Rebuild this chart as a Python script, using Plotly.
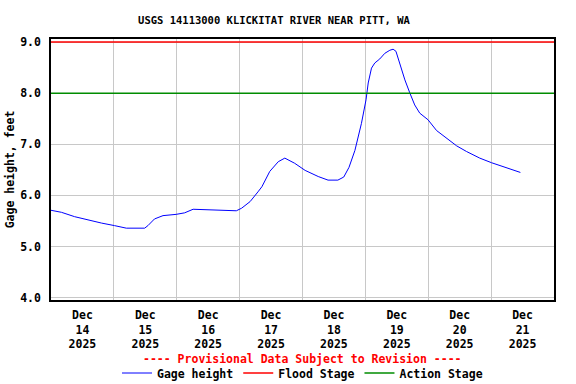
import plotly.graph_objects as go

# Gage height readings (time, feet)
times = [
    "2025-12-14 00:00", "2025-12-14 04:00", "2025-12-14 09:00", "2025-12-14 14:00",
    "2025-12-14 19:15", "2025-12-15 00:15", "2025-12-15 04:45", "2025-12-15 11:45",
    "2025-12-15 13:00", "2025-12-15 15:30", "2025-12-15 18:45", "2025-12-15 23:45",
    "2025-12-16 03:00", "2025-12-16 06:15", "2025-12-16 12:45", "2025-12-16 17:00",
    "2025-12-16 22:45", "2025-12-17 00:45", "2025-12-17 04:00", "2025-12-17 07:00",
    "2025-12-17 08:30", "2025-12-17 11:30", "2025-12-17 14:45", "2025-12-17 17:15",
    "2025-12-17 21:00", "2025-12-18 01:00", "2025-12-18 06:00", "2025-12-18 09:45",
    "2025-12-18 13:30", "2025-12-18 15:45", "2025-12-18 17:45", "2025-12-18 20:00",
    "2025-12-18 22:30", "2025-12-19 00:15", "2025-12-19 01:05", "2025-12-19 02:20",
    "2025-12-19 03:35", "2025-12-19 05:30", "2025-12-19 07:25", "2025-12-19 09:20",
    "2025-12-19 10:35", "2025-12-19 11:40", "2025-12-19 13:10", "2025-12-19 15:05",
    "2025-12-19 17:00", "2025-12-19 18:50", "2025-12-19 20:45", "2025-12-19 23:55",
    "2025-12-20 03:10", "2025-12-20 07:00", "2025-12-20 10:50", "2025-12-20 14:35",
    "2025-12-20 19:40", "2025-12-21 00:10", "2025-12-21 05:50", "2025-12-21 11:10",
]
gage_height = [
    5.71, 5.67, 5.585, 5.52,
    5.46, 5.41, 5.36, 5.36,
    5.41, 5.54, 5.605, 5.63,
    5.66, 5.73, 5.72, 5.70,
    5.70, 5.75, 5.88, 6.07,
    6.17, 6.47, 6.66, 6.73,
    6.63, 6.49, 6.37, 6.30,
    6.30, 6.36, 6.55, 6.88,
    7.41, 7.87, 8.20, 8.49,
    8.59, 8.67, 8.78, 8.84,
    8.86, 8.82, 8.56, 8.26,
    8.00, 7.77, 7.61, 7.48,
    7.27, 7.12, 6.97, 6.86,
    6.73, 6.64, 6.55, 6.45,
]

stage_times = ["2025-12-14 00:00", "2025-12-22 00:00"]
flood_stage = [9.0, 9.0]
action_stage = [8.0, 8.0]

y_ticks = [4.0, 5.0, 6.0, 7.0, 8.0, 9.0]
y_tick_text = ["4.0", "5.0", "6.0", "7.0", "8.0", "9.0"]

FONT = "DejaVu Sans Mono"

fig = go.Figure()
fig.add_trace(go.Scatter(x=times, y=gage_height, mode="lines", name="Gage height",
                         line=dict(color="#0000ff", width=1)))
fig.add_trace(go.Scatter(x=stage_times, y=flood_stage, mode="lines", name="Flood Stage",
                         line=dict(color="#ff0000", width=1.5)))
fig.add_trace(go.Scatter(x=stage_times, y=action_stage, mode="lines", name="Action Stage",
                         line=dict(color="#008c00", width=1.5)))

fig.update_layout(
    width=576, height=384, autosize=False,
    margin=dict(l=51, r=22, t=39, b=84, autoexpand=False),
    paper_bgcolor="white", plot_bgcolor="white",
    font=dict(family=FONT, size=11.5, color="black", weight="bold"),
    title=dict(text="USGS 14113000 KLICKITAT RIVER NEAR PITT, WA",
               x=274 / 576, xanchor="center", xref="container",
               y=1 - 20 / 384, yanchor="middle", yref="container",
               font=dict(family=FONT, size=10.5, weight="bold")),
    showlegend=True,
    legend=dict(orientation="h", x=0.5, xanchor="center", y=-(373 - 300) / 261,
                yanchor="middle",
                font=dict(family=FONT, size=11.5, weight="bold"),
                bgcolor="rgba(0,0,0,0)", itemwidth=30, tracegroupgap=0),
    annotations=[dict(text="---- Provisional Data Subject to Revision ----",
                      xref="paper", yref="paper", x=0.5, y=-(359 - 300) / 261,
                      xanchor="center", yanchor="middle", showarrow=False,
                      font=dict(family=FONT, size=11.5, color="#ff0000", weight="bold"))],
)

fig.update_xaxes(
    type="date",
    range=["2025-12-14 00:00", "2025-12-22 00:00"],
    tick0="2025-12-14", dtick=86400000,
    ticklabelmode="period", tickformat="%b<br>%d<br>%Y",
    showgrid=True, gridcolor="#c8c8c8", gridwidth=1,
    showline=True, linecolor="black", linewidth=1.5, mirror=True,
    ticks="", ticklabelstandoff=3, zeroline=False, automargin=False,
)
fig.update_yaxes(
    range=[3.955, 9.06],
    tickvals=y_ticks, ticktext=y_tick_text,
    showgrid=True, gridcolor="#c8c8c8", gridwidth=1,
    showline=True, linecolor="black", linewidth=1.5, mirror=True,
    ticks="", ticklabelstandoff=6, zeroline=False, automargin=False,
    title=dict(text="Gage height, feet", standoff=3,
               font=dict(family=FONT, size=11.5, weight="bold")),
)

fig.write_html(
    "out.html",
    config={"responsive": False, "displayModeBar": False},
    post_script="document.body.style.margin='0px';document.body.style.overflow='hidden';",
)
